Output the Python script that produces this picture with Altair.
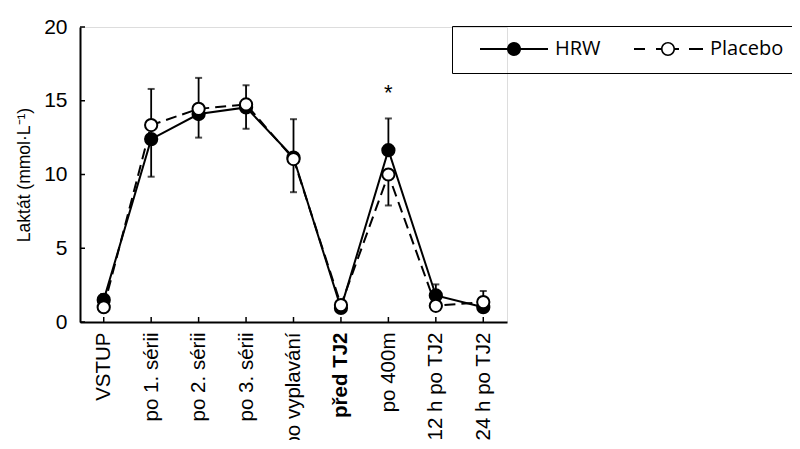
import altair as alt
import pandas as pd

categories = ["VSTUP", "po 1. sérii", "po 2. sérii", "po 3. sérii", "po vyplavání",
              "před TJ2", "po 400m", "12 h po TJ2", "24 h po TJ2"]
hrw_mean = [1.5, 12.4, 14.1, 14.55, 11.15, 0.95, 11.65, 1.8, 1.0]
hrw_err = [0.4, -2.55, -1.6, -1.45, 2.6, -0.2, 2.15, 0.75, -0.2]      # + up, - down
placebo_mean = [1.0, 13.35, 14.45, 14.75, 11.05, 1.15, 10.0, 1.1, 1.35]
placebo_err = [-0.3, 2.45, 2.1, 1.3, -2.25, 0.3, -2.1, -0.3, 0.75]
y_ticks = [0, 5, 10, 15, 20]
star_cat = ["po 400m"]
star_y = [15.5]
series_names = ["HRW", "Placebo"]

rows = []
for i, c in enumerate(categories):
    rows.append({"cat": c, "series": "HRW", "mean": hrw_mean[i], "end": hrw_mean[i] + hrw_err[i]})
    rows.append({"cat": c, "series": "Placebo", "mean": placebo_mean[i], "end": placebo_mean[i] + placebo_err[i]})
df = pd.DataFrame(rows)
ticks_df = pd.DataFrame({"v": y_ticks})
cats_df = pd.DataFrame({"cat": categories})
star_df = pd.DataFrame({"cat": star_cat, "y": star_y, "t": ["*"]})

W, H = 427, 295
FONT = "Liberation Sans"

xscale = alt.Scale(type="point", domain=categories, padding=0.5)
yscale = alt.Scale(domain=[0, 20], nice=False)

x_enc = alt.X("cat:N", scale=xscale, sort=categories, title=None,
              axis=alt.Axis(labelAngle=270, labelFont=FONT, labelFontSize=20.5, labelColor="black",
                            labelPadding=10, ticks=False, domainColor="black", domainWidth=2,
                            labelFontWeight=alt.condition("datum.value == 'před TJ2'",
                                                          alt.value("bold"), alt.value("normal"))))
y_enc = alt.Y("mean:Q", scale=yscale, title="Laktát (mmol·L⁻¹)",
              axis=alt.Axis(values=y_ticks, labelFont=FONT, labelFontSize=21, labelColor="black",
                            labelPadding=13, ticks=False, grid=False, domainColor="black",
                            domainWidth=2, titleFont=FONT, titleFontSize=17.5, titleFontWeight="normal",
                            titleColor="black", titlePadding=10))

base = alt.Chart(df)

err_rule = base.mark_rule(color="black", strokeWidth=1.8).encode(
    x=x_enc, y=y_enc, y2="end:Q")
err_cap = base.mark_tick(color="black", thickness=2, size=7).encode(
    x=x_enc, y=alt.Y("end:Q", scale=yscale))

line_hrw = base.transform_filter("datum.series == 'HRW'").mark_line(
    color="black", strokeWidth=2).encode(x=x_enc, y=y_enc)
line_plc = base.transform_filter("datum.series == 'Placebo'").mark_line(
    color="black", strokeWidth=2, strokeDash=[11, 6]).encode(x=x_enc, y=y_enc)
pt_hrw = base.transform_filter("datum.series == 'HRW'").mark_point(
    shape="circle", filled=True, fill="black", stroke="black", strokeWidth=2, size=150, opacity=1
).encode(x=x_enc, y=y_enc)
pt_plc = base.transform_filter("datum.series == 'Placebo'").mark_point(
    shape="circle", filled=True, fill="white", stroke="black", strokeWidth=2, size=150, opacity=1
).encode(x=x_enc, y=y_enc)

xticks = alt.Chart(cats_df).mark_rule(color="black", strokeWidth=1.5).encode(
    x=alt.X("cat:N", scale=xscale, sort=categories), y=alt.value(H), y2=alt.value(H - 5))
yticks = alt.Chart(ticks_df).mark_rule(color="black", strokeWidth=1.5).encode(
    y=alt.Y("v:Q", scale=yscale), x=alt.value(0), x2=alt.value(5))

star = alt.Chart(star_df).mark_text(font=FONT, fontSize=22, color="black", baseline="middle").encode(
    x=alt.X("cat:N", scale=xscale, sort=categories), y=alt.Y("y:Q", scale=yscale), text="t:N")

# ---- legend symbols (fill-only custom paths: line + marker) ----
SYM = 82.0           # symbol box width in px
U = SYM / 2          # path unit in px


def _f(v):
    return f"{v / U:.4f}"


def rect(x0, x1, h=1.0):
    return f"M{_f(x0)},{_f(-h)} L{_f(x1)},{_f(-h)} L{_f(x1)},{_f(h)} L{_f(x0)},{_f(h)} Z "


def disc(cx, r, ccw=False):
    s = 0 if ccw else 1
    return (f"M{_f(cx + r)},0 A{_f(r)},{_f(r)} 0 1,{s} {_f(cx - r)},0 "
            f"A{_f(r)},{_f(r)} 0 1,{s} {_f(cx + r)},0 Z ")


path_hrw = rect(-27, 41) + disc(7, 7)
path_plc = (rect(-28, -17) + rect(-6, -0.5) + rect(12.5, 17) + rect(27, 41)
            + disc(6, 7) + disc(6, 5.4, ccw=True))

leg = alt.Legend(title=None, orient="none", legendX=372, legendY=-1,
                 direction="horizontal", symbolSize=SYM * SYM, clipHeight=18,
                 symbolStrokeWidth=0, symbolFillColor="black",
                 labelFont="Open Sans", labelFontSize=20, labelFontWeight="normal",
                 labelColor="black", labelOffset=7, columnPadding=20, padding=14,
                 strokeColor="black")

legend_layer = base.transform_filter("false").mark_point(
    filled=True, color="black", strokeWidth=0, size=SYM * SYM, opacity=1
).encode(
    shape=alt.Shape("series:N", scale=alt.Scale(domain=series_names, range=[path_hrw, path_plc]),
                    legend=leg),
)

chart = alt.layer(
    err_rule, err_cap, line_hrw, line_plc, pt_hrw, pt_plc, xticks, yticks, star, legend_layer
).properties(
    width=W, height=H,
    autosize=alt.AutoSizeParams(type="none"),
    padding={"left": 72, "top": 19, "right": 285, "bottom": 118},
).configure_view(stroke=None).configure_legend(strokeWidth=2).configure(background="white")

chart.save("out.html", embed_options={"renderer": "svg", "actions": False})
